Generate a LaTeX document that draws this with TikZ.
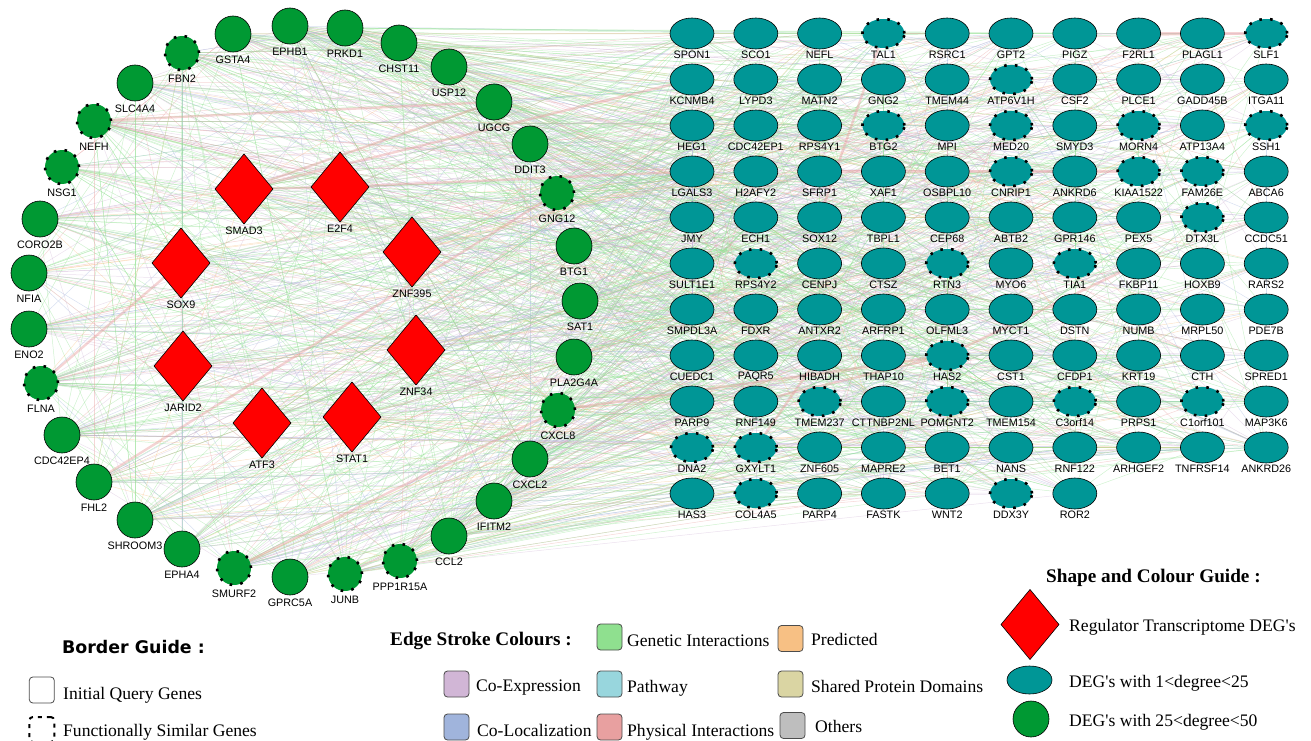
\documentclass[tikz,border=0pt]{standalone}
\usepackage{fontspec}
\setmainfont{Liberation Serif}
\newfontfamily\genefont{Liberation Sans}
\newfontfamily\bgfont{DejaVu Sans}
\usetikzlibrary{shapes.geometric}
\pgfdeclarelayer{edges}
\pgfsetlayers{edges,main}
\definecolor{cgreen}{RGB}{0,153,51}
\definecolor{cteal}{RGB}{0,150,150}
\definecolor{cred}{RGB}{255,0,0}
\definecolor{eg}{RGB}{143,224,143}
\definecolor{eo}{RGB}{247,192,132}
\definecolor{ep}{RGB}{209,182,214}
\definecolor{ew}{RGB}{152,214,221}
\definecolor{es}{RGB}{218,213,163}
\definecolor{eb}{RGB}{160,180,220}
\definecolor{er}{RGB}{232,160,160}
\definecolor{ex}{RGB}{190,190,190}
\colorlet{ec0}{eg}\colorlet{ec1}{eg}\colorlet{ec2}{eg}\colorlet{ec3}{eg}\colorlet{ec4}{eg}
\colorlet{ec5}{eg}\colorlet{ec6}{eg}\colorlet{ec7}{eg}\colorlet{ec8}{eg}\colorlet{ec9}{eg}
\colorlet{ec10}{ep}\colorlet{ec11}{ep}\colorlet{ec12}{ep}\colorlet{ec13}{ep}\colorlet{ec14}{ep}
\colorlet{ec15}{eb}\colorlet{ec16}{eb}\colorlet{ec17}{er}\colorlet{ec18}{er}\colorlet{ec19}{eo}
\tikzset{
  gl/.style={font=\genefont\fontsize{10.8}{11}\selectfont, anchor=center, inner sep=0pt},
  cn0/.style={circle, fill=cgreen, draw=black, line width=0.6pt, minimum size=36pt, inner sep=0pt, outer sep=0pt},
  cn1/.style={circle, fill=cgreen, draw=black, line width=2.6pt, dash pattern=on 2.6pt off 8.2pt, minimum size=34pt, inner sep=0pt, outer sep=0pt},
  tn0/.style={ellipse, fill=cteal, draw=black, line width=0.6pt, minimum width=44pt, minimum height=31pt, inner sep=0pt, outer sep=0pt},
  tn1/.style={ellipse, fill=cteal, draw=black, line width=2.6pt, dash pattern=on 2.6pt off 8.2pt, minimum width=42pt, minimum height=29pt, inner sep=0pt, outer sep=0pt},
  dn/.style={diamond, fill=cred, draw=black, line width=0.6pt, minimum width=58pt, minimum height=70pt, inner sep=0pt, outer sep=0pt},
  lnk/.style={line width=0.5pt, opacity=0.42},
  tk/.style={line width=2.4pt, color=er, opacity=0.45},
  lt/.style={font=\fontsize{17.6}{20}\selectfont, anchor=base west, inner sep=0pt},
  lh/.style={font=\bfseries\fontsize{19.2}{22}\selectfont, anchor=base west, inner sep=0pt},
  lbox/.style={rounded corners=3.5pt, minimum width=25pt, minimum height=26pt, inner sep=0pt, outer sep=0pt, draw=black!70, line width=0.8pt},
}
\newcommand\gridrow[2]{%
  \foreach \gname/\gd [count=\gi] in {#2} {%
    \node[tn\gd] (t#1-\gi) at ({692+63.8*(\gi-1)}, {33.5+46*(#1-1)}) {};
    \node[gl] (t#1-\gi-l) at ({692+63.8*(\gi-1)}, {55+46*(#1-1)}) {\gname};
  }}
\begin{document}
\begin{tikzpicture}[x=1pt,y=-1pt]
\useasboundingbox (0,0) rectangle (1311,741);
% ---- grid of teal DEGs
\gridrow{1}{SPON1/0,SCO1/0,NEFL/0,TAL1/1,RSRC1/0,GPT2/0,PIGZ/0,F2RL1/0,PLAGL1/0,SLF1/1}
\gridrow{2}{KCNMB4/0,LYPD3/0,MATN2/0,GNG2/0,TMEM44/0,ATP6V1H/1,CSF2/0,PLCE1/0,GADD45B/0,ITGA11/0}
\gridrow{3}{HEG1/0,CDC42EP1/0,RPS4Y1/0,BTG2/1,MPI/0,MED20/1,SMYD3/0,MORN4/1,ATP13A4/0,SSH1/1}
\gridrow{4}{LGALS3/0,H2AFY2/0,SFRP1/0,XAF1/0,OSBPL10/0,CNRIP1/1,ANKRD6/0,KIAA1522/1,FAM26E/1,ABCA6/0}
\gridrow{5}{JMY/0,ECH1/0,SOX12/0,TBPL1/0,CEP68/0,ABTB2/0,GPR146/0,PEX5/0,DTX3L/1,CCDC51/0}
\gridrow{6}{SULT1E1/0,RPS4Y2/1,CENPJ/0,CTSZ/0,RTN3/1,MYO6/0,TIA1/1,FKBP11/0,HOXB9/0,RARS2/0}
\gridrow{7}{SMPDL3A/0,FDXR/0,ANTXR2/0,ARFRP1/0,OLFML3/0,MYCT1/0,DSTN/0,NUMB/0,MRPL50/0,PDE7B/0}
\gridrow{8}{CUEDC1/0,PAQR5/0,HIBADH/0,THAP10/0,HAS2/1,CST1/0,CFDP1/0,KRT19/0,CTH/0,SPRED1/0}
\gridrow{9}{PARP9/0,RNF149/0,TMEM237/1,CTTNBP2NL/0,POMGNT2/1,TMEM154/0,C3orf14/1,PRPS1/0,C1orf101/1,MAP3K6/0}
\gridrow{10}{DNA2/1,GXYLT1/1,ZNF605/0,MAPRE2/0,BET1/0,NANS/0,RNF122/0,ARHGEF2/0,TNFRSF14/0,ANKRD26/0}
\gridrow{11}{HAS3/0,COL4A5/1,PARP4/0,FASTK/0,WNT2/0,DDX3Y/1,ROR2/0}
% ---- ring of green DEGs
\foreach \gname/\gx/\gy/\gd [count=\gi] in {GSTA4/233/34/0, EPHB1/290/26/0, PRKD1/345/28/0, CHST11/399/43/0, USP12/449/67/0, UGCG/494/102/0, DDIT3/530/144/0, GNG12/557/193/1, BTG1/574/246/0, SAT1/580/301/0, PLA2G4A/574/357/0, CXCL8/558/410/1, CXCL2/530/459/0, IFITM2/494/501/0, CCL2/449/536/0, PPP1R15A/400/561/1, JUNB/345/574/1, GPRC5A/290/577/0, SMURF2/234/568/1, EPHA4/182/549/0, SHROOM3/135/520/0, FHL2/94/482/0, CDC42EP4/62/435/0, FLNA/41/383/1, ENO2/29/329/0, NFIA/29/273/0, CORO2B/40/219/0, NSG1/62/167/1, NEFH/94/121/1, SLC4A4/135/83/0, FBN2/182/53/1}
{
  \node[cn\gd] (c\gi) at (\gx,\gy) {};
  \node[gl] (c\gi-l) at (\gx,\gy+26) {\gname};
}
% ---- regulators
\foreach \gname/\gx/\gy [count=\gi] in {SMAD3/244/189, E2F4/340/187, ZNF395/412/252, SOX9/181/263, JARID2/183/366, ATF3/262/423, STAT1/352/417, ZNF34/416/350}
{
  \node[dn] (d\gi) at (\gx,\gy) {};
  \node[gl] (d\gi-l) at (\gx,\gy+42) {\gname};
}
% ---- edges
\begin{pgfonlayer}{edges}
\pgfmathsetseed{12345}
\foreach \i in {1,...,31}{
  \pgfmathrandominteger{\nedge}{16}{34}
  \foreach \k in {1,...,\nedge}{
    \pgfmathrandominteger{\myr}{1}{11}
    \pgfmathrandominteger{\myc}{1}{10}
    \pgfmathtruncatemacro{\myr}{(\myr==11 && \myc>7) ? 10 : \myr}
    \pgfmathrandominteger{\myk}{0}{19}
    \draw[lnk, ec\myk] (c\i) -- (t\myr-\myc);
  }
  \foreach \k in {1,...,5}{
    \pgfmathrandominteger{\myj}{3}{28}
    \pgfmathtruncatemacro{\myj}{mod(\i+\myj-1,31)+1}
    \pgfmathrandominteger{\myk}{0}{19}
    \draw[lnk, ec\myk] (c\i) -- (c\myj);
  }
}
\foreach \i in {1,...,8}{
  \foreach \k in {1,...,10}{
    \pgfmathrandominteger{\myj}{1}{31}
    \pgfmathrandominteger{\myk}{0}{19}
    \draw[lnk, ec\myk] (d\i) -- (c\myj);
  }
  \foreach \k in {1,...,18}{
    \pgfmathrandominteger{\myr}{1}{11}
    \pgfmathrandominteger{\myc}{1}{10}
    \pgfmathtruncatemacro{\myr}{(\myr==11 && \myc>7) ? 10 : \myr}
    \pgfmathrandominteger{\myk}{0}{19}
    \draw[lnk, ec\myk] (d\i) -- (t\myr-\myc);
  }
}
\foreach \gr in {1,...,10}{
  \foreach \gc in {1,...,10}{
    \foreach \k in {1,2,3}{
      \pgfmathrandominteger{\myr}{1}{11}
      \pgfmathrandominteger{\myc}{1}{10}
      \pgfmathtruncatemacro{\myr}{(\myr==11 && \myc>7) ? 10 : \myr}
      \pgfmathrandominteger{\myk}{0}{19}
      \draw[lnk, ec\myk] (t\gr-\gc) -- (t\myr-\myc);
    }
  }
}
\foreach \gc in {1,...,7}{
  \foreach \k in {1,2,3}{
    \pgfmathrandominteger{\myr}{1}{10}
    \pgfmathrandominteger{\myc}{1}{10}
    \pgfmathrandominteger{\myk}{0}{19}
    \draw[lnk, ec\myk] (t11-\gc) -- (t\myr-\myc);
  }
}
% thick physical interactions
\draw[tk] (d1) -- (d2);
\draw[tk] (d1) -- (c6);
\draw[tk] (d1) -- (t2-1);
\draw[tk] (c29) -- (c6);
\draw[tk] (c22) -- (c8);
\draw[tk] (c19) -- (c12);
\draw[tk] (c12) -- (t8-5);
\draw[tk] (d2) -- (t4-1);
\draw[tk] (c24) -- (d4);
\draw[tk] (t4-3) -- (t4-8);
\draw[tk] (t9-2) -- (t8-5);
\draw[tk] (t8-5) -- (t6-8);
\draw[tk] (t1-4) -- (t5-3);
\draw[tk] (t10-2) -- (t8-3);
\draw[tk] (t1-8) -- (t1-10);
\end{pgfonlayer}
% ---- Border guide
\node[font=\bgfont\bfseries\fontsize{17.4}{20}\selectfont, anchor=base west, inner sep=0pt] (bgt) at (62,653.3) {Border Guide :};
\node[lbox, fill=white] (bq) at (41.8,690) {};
\node[lt] (bqt) at (63,699.3) {Initial Query Genes};
\node[lbox, draw=black, line width=2pt, dash pattern=on 4pt off 5pt, minimum height=25pt] (bs) at (41.8,729.5) {};
\node[lt] (bst) at (63,736.7) {Functionally Similar Genes};
% ---- Edge stroke colours
\node[lh] (est) at (390,645.7) {Edge Stroke Colours :};
\node[lbox, fill=eg] (b1) at (609.5,637) {};
\node[lt] (b1t) at (627,646.7) {Genetic Interactions};
\node[lbox, fill=eo] (b2) at (790.5,638.5) {};
\node[lt] (b2t) at (811,645) {Predicted};
\node[lbox, fill=ep] (b3) at (456.5,684) {};
\node[lt] (b3t) at (476,691.7) {Co-Expression};
\node[lbox, fill=ew] (b4) at (609.5,684) {};
\node[lt] (b4t) at (627,692.7) {Pathway};
\node[lbox, fill=es] (b5) at (790.5,684) {};
\node[lt] (b5t) at (811,692.7) {Shared Protein Domains};
\node[lbox, fill=eb] (b6) at (456.5,727) {};
\node[lt] (b6t) at (477,736.7) {Co-Localization};
\node[lbox, fill=er] (b7) at (609.5,727) {};
\node[lt] (b7t) at (627,736.7) {Physical Interactions};
\node[lbox, fill=ex] (b8) at (792.5,725.5) {};
\node[lt] (b8t) at (815,732.7) {Others};
% ---- Shape and colour guide
\node[lh] (sgt) at (1046,582.7) {Shape and Colour Guide :};
\node[dn] (sg1) at (1030,624.5) {};
\node[lt] (sg1t) at (1069,631.7) {Regulator Transcriptome DEG\textquotesingle s};
\node[tn0, minimum width=45pt, minimum height=28pt] (sg2) at (1029.5,680) {};
\node[lt] (sg2t) at (1069,687.7) {DEG\textquotesingle s with 1<degree<25};
\node[cn0] (sg3) at (1031,719) {};
\node[lt] (sg3t) at (1069,726.7) {DEG\textquotesingle s with 25<degree<50};
\end{tikzpicture}
\end{document}
